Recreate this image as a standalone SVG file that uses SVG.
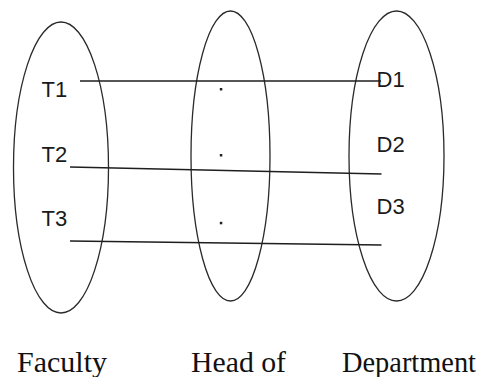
<svg xmlns="http://www.w3.org/2000/svg" width="483" height="377" viewBox="0 0 483 377">
<style>
.set{fill:none;stroke:#2a2a2a;stroke-width:1.3}
.ln{stroke:#1e1e1e;stroke-width:1.3;fill:none}
.lbl{font-family:"Liberation Sans",Arial,sans-serif;font-size:22px;fill:#1a1a1a}
.cap{font-family:"Liberation Serif","Times New Roman",serif;font-size:28.5px;fill:#111}
.dot{fill:#222}
</style>
<rect width="483" height="377" fill="#fff"/>
<g id="faculty">
<ellipse class="set" cx="61" cy="167.5" rx="47.5" ry="145.5"/>
<text class="lbl" x="41.5" y="97">T1</text>
<text class="lbl" x="41.5" y="162">T2</text>
<text class="lbl" x="41.5" y="225.5">T3</text>
<text class="cap" x="17" y="372" textLength="90" lengthAdjust="spacingAndGlyphs">Faculty</text>
</g>
<g id="head">
<ellipse class="set" cx="230.5" cy="156" rx="39.5" ry="145"/>
<rect class="dot" x="219.8" y="88" width="2.5" height="2.5"/>
<rect class="dot" x="219.8" y="154" width="2.5" height="2.5"/>
<rect class="dot" x="219.8" y="221.8" width="2.5" height="2.5"/>
<text class="cap" x="191" y="372" textLength="95" lengthAdjust="spacingAndGlyphs">Head of</text>
</g>
<g id="department">
<ellipse class="set" cx="396.5" cy="156" rx="47.5" ry="145"/>
<text class="lbl" x="376.5" y="87">D1</text>
<text class="lbl" x="376.5" y="151.5">D2</text>
<text class="lbl" x="376.5" y="214">D3</text>
<text class="cap" x="342" y="372" textLength="134" lengthAdjust="spacingAndGlyphs">Department</text>
</g>
<g id="connectors">
<line class="ln" x1="80" y1="81" x2="381" y2="81"/>
<line class="ln" x1="70" y1="167" x2="381.5" y2="174"/>
<line class="ln" x1="70" y1="241" x2="381.5" y2="245"/>
</g>
</svg>
